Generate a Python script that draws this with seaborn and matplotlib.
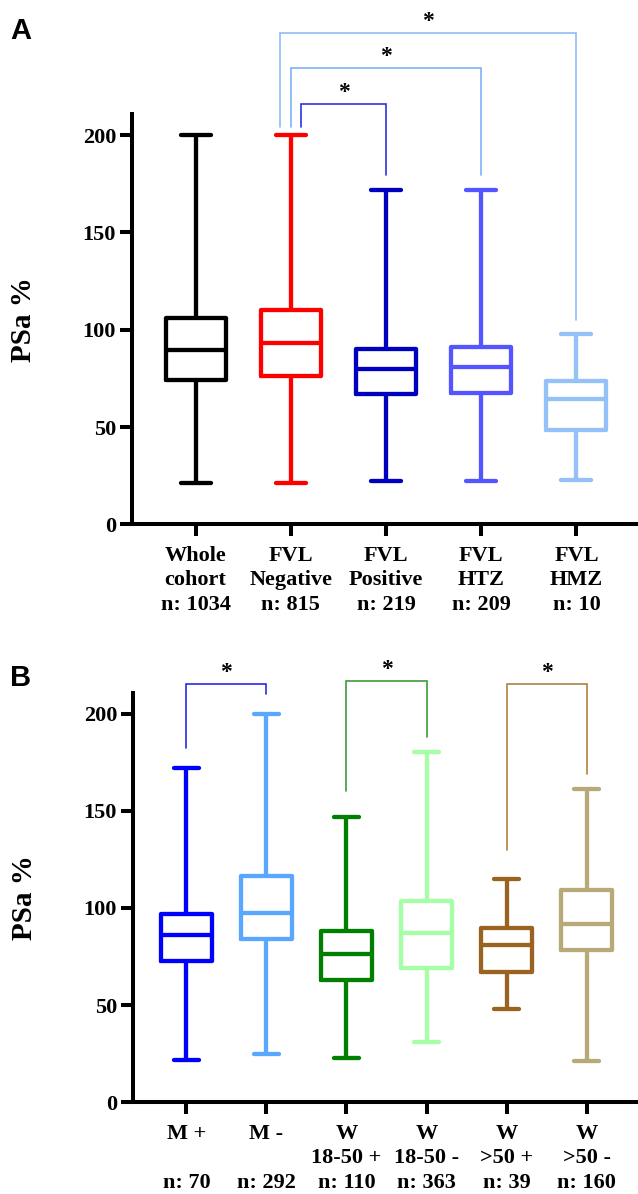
import pandas as pd
import matplotlib
matplotlib.use("Agg")
import matplotlib.pyplot as plt
import seaborn as sns

# five-number summaries: min, q1, median, q3, max
groups_a = ["Whole\ncohort\nn: 1034", "FVL\nNegative\nn: 815", "FVL\nPositive\nn: 219",
            "FVL\nHTZ\nn: 209", "FVL\nHMZ\nn: 10"]
whole = [21, 74, 89.5, 106, 200]
fvl_neg = [21, 76, 93, 110, 200]
fvl_pos = [22, 67, 80, 90, 172]
fvl_htz = [22, 67.5, 81, 91, 172]
fvl_hmz = [23, 48.5, 64.5, 73.5, 98]
colors_a = ["#000000", "#ff0000", "#0000c0", "#5555ff", "#93c1f8"]

groups_b = ["M +\n\nn: 70", "M -\n\nn: 292", "W\n18-50 +\nn: 110",
            "W\n18-50 -\nn: 363", "W\n>50 +\nn: 39", "W\n>50 -\nn: 160"]
m_pos = [22, 72.5, 86, 97, 172]
m_neg = [25, 84, 97.5, 116.5, 200]
w1850_pos = [23, 63, 76.5, 88, 147]
w1850_neg = [31, 69, 87, 103.5, 180]
w50_pos = [48, 67, 81, 89.5, 115]
w50_neg = [21, 78.5, 91.5, 109, 161]
colors_b = ["#0000ff", "#5aa7ff", "#007f00", "#a6ffa6", "#9a6420", "#b8aa78"]

# significance brackets: (x left, x right, bar height, left foot, right foot, colour)
brackets_a = [(1.11, 2, 216, 204, 179.5, "#3030e0"),
              (1.0, 3, 234.4, 204, 179.5, "#7fb2f5"),
              (0.89, 4, 252.7, 204, 105, "#8cbcf7")]
brackets_b = [(0, 1, 215.4, 182, 210, "#2a2ae6"),
              (2, 3, 216.8, 160, 188, "#3a9c3a"),
              (4, 5, 215.4, 130, 169, "#b08040")]


def long_form(labels, series):
    rows = []
    for lab, vals in zip(labels, series):
        for v in vals:
            rows.append({"group": lab, "value": v})
    return pd.DataFrame(rows)


df_a = long_form(groups_a, [whole, fvl_neg, fvl_pos, fvl_htz, fvl_hmz])
df_b = long_form(groups_b, [m_pos, m_neg, w1850_pos, w1850_neg, w50_pos, w50_neg])

sns.set_style("white")
plt.rcParams["font.family"] = ["Liberation Serif", "DejaVu Serif"]
plt.rcParams["font.weight"] = "bold"
for key in ["text.color", "axes.labelcolor", "xtick.color", "ytick.color"]:
    plt.rcParams[key] = "black"

W, H = 638, 1194
fig = plt.figure(figsize=(W / 100, H / 100), dpi=100)


def draw_panel(rect, df, labels, colors, brackets, letter, letter_y):
    ax = fig.add_axes(rect)
    sns.boxplot(data=df, x="group", y="value", hue="group", order=labels,
                hue_order=labels, palette=colors, fill=False, whis=(0, 100),
                width=0.63, linewidth=3.1, legend=False, ax=ax)
    n = len(labels)
    ax.set_xlim(-0.667, n - 0.333)
    ax.set_ylim(0, 210.7)
    ax.set_yticks([0, 50, 100, 150, 200])
    ax.set_xlabel("")
    ax.set_ylabel("PSa %", fontsize=21, fontweight="bold", labelpad=33,
                  color="black")
    for s in ["top", "right"]:
        ax.spines[s].set_visible(False)
    for s in ["left", "bottom"]:
        ax.spines[s].set_linewidth(2.9)
        ax.spines[s].set_color("black")
    ax.tick_params(axis="both", direction="out", length=8.5, width=2.9,
                   color="black", labelcolor="black", labelsize=16, pad=3,
                   left=True, bottom=True)
    ax.tick_params(axis="x", pad=7)
    ax.set_xticks(range(n))
    ax.set_xticklabels(labels, linespacing=1.3, fontweight="bold")
    for t in ax.get_yticklabels():
        t.set_fontweight("bold")

    for x0, x1, yb, f0, f1, c in brackets:
        ax.plot([x0, x0, x1, x1], [f0, yb, yb, f1], color=c, lw=1.2,
                clip_on=False, solid_joinstyle="miter")
        ax.text((x0 + x1) / 2, yb + 3, "*", ha="center", va="baseline",
                fontsize=17, fontweight="bold", color="black", clip_on=False)

    fig.text(10 / W, 1 - letter_y / H, letter, fontsize=21, fontweight="bold",
             family="Liberation Sans", ha="left", va="baseline", color="black")
    return ax


ax_a = draw_panel([132 / W, 1 - 524.3 / H, 508 / W, 410 / H], df_a, groups_a,
                  colors_a, brackets_a, "A", 39)
ax_b = draw_panel([133 / W, 1 - 1102.3 / H, 507 / W, 409.6 / H], df_b, groups_b,
                  colors_b, brackets_b, "B", 686)

fig.savefig("out.png", dpi=100)
